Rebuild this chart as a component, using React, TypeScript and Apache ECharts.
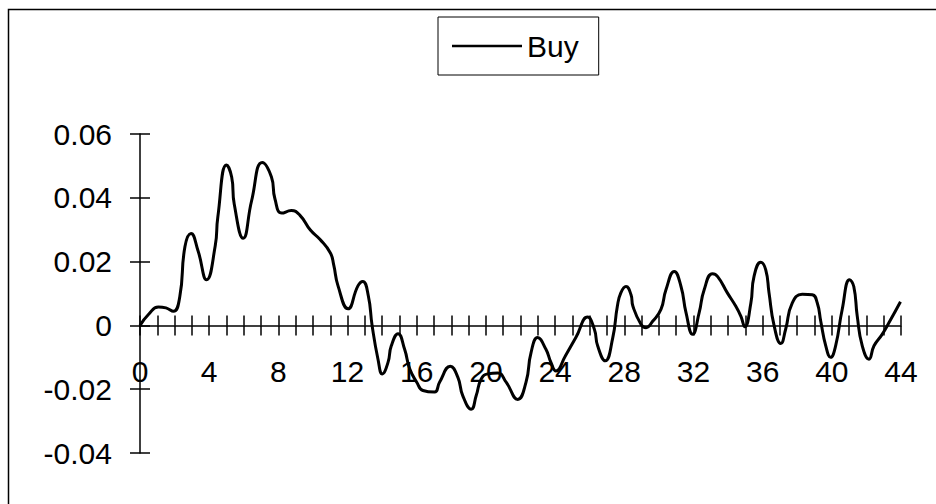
import React, { useEffect, useRef } from "react";
import * as echarts from "echarts";

const xValues: number[] = [
  0, 0.5, 1.06, 1.5, 1.93, 2.3, 2.6, 2.95, 3.35, 3.85, 4.35, 4.5, 5.0, 5.3, 5.45, 5.97, 6.45, 7.07, 7.6, 7.8,
  8.2, 8.75, 9.25, 9.85, 10.4, 11.0, 11.2, 11.45, 12.03, 12.6, 12.88, 13.2, 13.42, 13.76, 14.01, 14.34, 14.53,
  14.92, 15.3, 15.6, 16.0, 16.36, 17.03, 17.32, 17.94, 18.38, 18.66, 19.15, 19.44, 19.73, 20.11, 20.69, 21.17,
  21.84, 22.32, 22.61, 22.99, 23.47, 23.76, 24.05, 24.6, 25.2, 25.88, 26.27, 26.46, 26.9, 27.33, 27.6, 27.8,
  28.1, 28.39, 28.5, 28.97, 29.26, 29.64, 30.12, 30.41, 30.89, 31.28, 31.57, 31.95, 32.33, 32.62, 33.1, 33.4,
  33.96, 34.45, 34.74, 34.97, 35.32, 35.5, 35.89, 36.18, 36.37, 36.66, 37.05, 37.33, 37.71, 38.29, 38.87,
  39.16, 39.36, 39.65, 39.93, 40.22, 40.6, 41.03, 41.27, 41.47, 41.76, 42.15, 42.44, 42.91, 43.3, 43.97,
];

const buyValues: number[] = [
  0, 0.0035, 0.0058, 0.0055, 0.0044, 0.009, 0.0247, 0.0288, 0.0235, 0.0143, 0.025, 0.034, 0.0503, 0.0465,
  0.038, 0.0273, 0.039, 0.0511, 0.0465, 0.0397, 0.0352, 0.036, 0.0345, 0.0299, 0.027, 0.0228, 0.019, 0.0124,
  0.0052, 0.0124, 0.0138, 0.0093, 0, -0.0106, -0.0152, -0.0116, -0.0064, -0.0026, -0.0075, -0.0137, -0.0178,
  -0.0204, -0.0209, -0.0178, -0.0128, -0.0163, -0.022, -0.0263, -0.022, -0.0168, -0.0152, -0.0149, -0.0178,
  -0.0232, -0.0178, -0.0085, -0.0038, -0.0075, -0.0116, -0.0143, -0.0095, -0.0038, 0.0026, -0.0012, -0.0064,
  -0.0111, -0.004, 0.006, 0.0102, 0.0122, 0.0096, 0.006, 0.0003, -0.0007, 0.0013, 0.005, 0.0112, 0.0169,
  0.0122, 0.004, -0.0028, 0.004, 0.0112, 0.0162, 0.0153, 0.0102, 0.006, 0.0029, -0.0004, 0.007, 0.0153,
  0.0198, 0.0174, 0.0102, 0, -0.0057, -0.0012, 0.007, 0.0098, 0.0096, 0.007, 0.0013, -0.0064, -0.01, -0.0064,
  0.005, 0.0143, 0.0122, 0.0029, -0.0064, -0.0106, -0.0064, -0.0028, 0.0008, 0.0074,
];

const seriesName = "Buy";
const xMin = 0;
const xMax = 44;
const xTickStep = 1;
const xLabelStep = 4;
const yMin = -0.04;
const yMax = 0.06;
const yStep = 0.02;

const FONT = "'Liberation Sans', Arial, sans-serif";

export default function App() {
  const ref = useRef<HTMLDivElement>(null);

  useEffect(() => {
    if (!ref.current) return;
    const chart = echarts.init(ref.current, undefined, { renderer: "svg" });
    const data = xValues.map((x, i) => [x, buyValues[i]]);

    const gridLeft = 140;
    const gridRight = 35;
    const gridTop = 134;
    const gridBottom = 51;
    const plotH = 504 - gridTop - gridBottom;
    const zeroH = (plotH * (yMax - 0)) / (yMax - yMin);

    const tickStyle = { color: "#000", width: 1.5 };
    const baseX = {
      type: "value" as const,
      min: xMin,
      max: xMax,
      interval: xTickStep,
      position: "bottom" as const,
      splitLine: { show: false },
    };
    const baseY = {
      type: "value" as const,
      min: yMin,
      max: yMax,
      interval: yStep,
      position: "left" as const,
      gridIndex: 0,
      splitLine: { show: false },
    };

    chart.setOption({
      animation: false,
      backgroundColor: "#fff",
      grid: [
        { left: gridLeft, right: gridRight, top: gridTop, bottom: gridBottom, outerBoundsMode: "none", containLabel: false },
        { left: gridLeft, right: gridRight, top: gridTop, height: zeroH, outerBoundsMode: "none", containLabel: false },
      ],
      graphic: [
        {
          type: "rect",
          shape: { x: 8.5, y: 9.5, width: 1200, height: 1200 },
          style: { fill: "none", stroke: "#000", lineWidth: 1.5 },
          silent: true,
        },
      ],
      legend: {
        left: 438,
        top: 17,
        padding: [14, 20, 14, 14],
        borderColor: "#000",
        borderWidth: 1,
        icon: "rect",
        itemWidth: 70,
        itemHeight: 2.5,
        textStyle: { fontSize: 30, fontFamily: FONT, color: "#000" },
        data: [seriesName],
      },
      xAxis: [
        { ...baseX, gridIndex: 0, show: false },
        {
          ...baseX,
          gridIndex: 1,
          axisLine: { show: true, onZero: false, lineStyle: tickStyle },
          axisTick: { show: true, inside: false, length: 10, lineStyle: tickStyle },
          axisLabel: {
            show: true,
            margin: 31,
            fontSize: 30,
            fontFamily: FONT,
            color: "#000",
            formatter: (v: number) => (Math.round(v) % xLabelStep === 0 ? String(Math.round(v)) : ""),
          },
        },
        {
          ...baseX,
          gridIndex: 1,
          axisLine: { show: false, onZero: false },
          axisTick: { show: true, inside: true, length: 10, lineStyle: tickStyle },
          axisLabel: { show: false },
        },
      ],
      yAxis: [
        {
          ...baseY,
          axisLine: { show: true, onZero: false, lineStyle: tickStyle },
          axisTick: { show: true, inside: false, length: 10, lineStyle: tickStyle },
          axisLabel: { show: true, margin: 28, fontSize: 30, fontFamily: FONT, color: "#000" },
        },
        {
          ...baseY,
          axisLine: { show: false, onZero: false },
          axisTick: { show: true, inside: true, length: 10, lineStyle: tickStyle },
          axisLabel: { show: false },
        },
        { type: "value", gridIndex: 1, min: 0, max: 1, show: false },
      ],
      series: [
        {
          name: seriesName,
          type: "line",
          xAxisIndex: 0,
          yAxisIndex: 0,
          data,
          smooth: 0.5,
          showSymbol: false,
          symbol: "none",
          color: "#000",
          lineStyle: { color: "#000", width: 3 },
          z: 5,
        },
      ],
    });

    return () => chart.dispose();
  }, []);

  return (
    <div
      ref={ref}
      style={{ position: "absolute", left: 0, top: 0, width: 936, height: 504, background: "#fff" }}
    />
  );
}
